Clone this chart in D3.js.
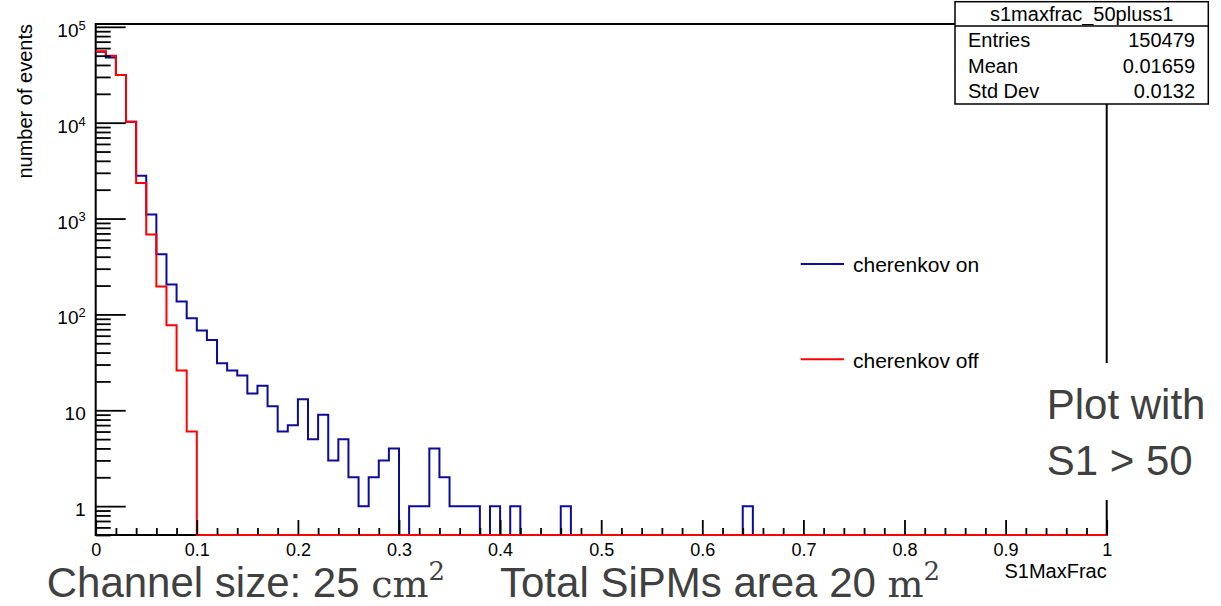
<!DOCTYPE html>
<html lang="en">
<head>
<meta charset="UTF-8">
<title>s1maxfrac_50pluss1</title>
<script src="https://d3js.org/d3.v7.min.js"></script>
<style>
  body { margin: 0; background: #fff; }
  svg text { font-family: "Liberation Sans", Arial, sans-serif; }
</style>
</head>
<body>
<div id="chart"></div>
<script>
// 100 bins of width 0.01 on S1MaxFrac (0..1)
const binWidth = 0.01;
const cherenkovOn = [
  55000, 48000, 31500, 10200, 2800, 1100, 425, 205, 136, 91,
  68, 54, 31, 26, 23, 15, 18, 11, 6, 7,
  13, 5, 9, 3, 5, 2, 1, 2, 3, 4,
  0, 1, 1, 4, 2, 1, 1, 1, 0, 1,
  0, 1, 0, 0, 0, 0, 1, 0, 0, 0,
  0, 0, 0, 0, 0, 0, 0, 0, 0, 0,
  0, 0, 0, 0, 1, 0, 0, 0, 0, 0,
  0, 0, 0, 0, 0, 0, 0, 0, 0, 0,
  0, 0, 0, 0, 0, 0, 0, 0, 0, 0,
  0, 0, 0, 0, 0, 0, 0, 0, 0, 0
];
const cherenkovOff = [
  55500, 50000, 31500, 10200, 2350, 680, 196, 77, 26, 6,
  0, 0, 0, 0, 0, 0, 0, 0, 0, 0,
  0, 0, 0, 0, 0, 0, 0, 0, 0, 0,
  0, 0, 0, 0, 0, 0, 0, 0, 0, 0,
  0, 0, 0, 0, 0, 0, 0, 0, 0, 0,
  0, 0, 0, 0, 0, 0, 0, 0, 0, 0,
  0, 0, 0, 0, 0, 0, 0, 0, 0, 0,
  0, 0, 0, 0, 0, 0, 0, 0, 0, 0,
  0, 0, 0, 0, 0, 0, 0, 0, 0, 0,
  0, 0, 0, 0, 0, 0, 0, 0, 0, 0
];
const seriesNames = ['cherenkov on', 'cherenkov off'];
const xTicks = [0, 0.1, 0.2, 0.3, 0.4, 0.5, 0.6, 0.7, 0.8, 0.9, 1];
const yTicks = [1, 10, 100, 1000, 10000, 100000];
const statTitle = 's1maxfrac_50pluss1';
const statLabels = ['Entries', 'Mean', 'Std Dev'];
const statValues = ['150479', '0.01659', '0.0132'];

const W = 1221, H = 606;
const mLeft = 95.7, mRight = 1106.7, mTop = 24, mBottom = 535;
const blue = '#0b0b9c', red = '#ff0000';

const svg = d3.select('#chart').append('svg')
  .attr('width', W).attr('height', H);

const x = d3.scaleLinear().domain([0, 1]).range([mLeft, mRight]);
const y = d3.scaleLog().domain([0.5, 1.07e5]).range([mBottom, mTop]);

// frame
svg.append('rect')
  .attr('x', mLeft).attr('y', mTop)
  .attr('width', mRight - mLeft).attr('height', mBottom - mTop)
  .attr('fill', 'none').attr('stroke', '#000').attr('stroke-width', 2);

// histograms, empty bins sit on the lower edge
function steps(vals) {
  const pts = [];
  vals.forEach((v, i) => {
    const yy = v > 0 ? y(v) : mBottom;
    pts.push([x(i * binWidth), yy], [x((i + 1) * binWidth), yy]);
  });
  return pts;
}
const line = d3.line();
[[cherenkovOn, blue], [cherenkovOff, red]].forEach(([vals, col]) => {
  svg.append('path')
    .attr('d', line(steps(vals)))
    .attr('fill', 'none')
    .attr('stroke', col)
    .attr('stroke-width', 2);
});

// x axis
const xMinor = d3.range(0, 101, 2).map(i => i / 100).filter(v => Math.round(v * 100) % 10 !== 0);
const gxMinor = svg.append('g').attr('transform', `translate(0,${mBottom})`)
  .call(d3.axisBottom(x).tickValues(xMinor).tickSize(-7).tickFormat(''));
const gx = svg.append('g').attr('transform', `translate(0,${mBottom})`)
  .call(d3.axisBottom(x).tickValues(xTicks).tickSize(-15).tickPadding(8).tickFormat(d3.format('~g')));

// y axis
const yMinor = y.ticks().filter(v => !yTicks.includes(v));
const gyMinor = svg.append('g').attr('transform', `translate(${mLeft},0)`)
  .call(d3.axisLeft(y).tickValues(yMinor).tickSize(-15).tickFormat(''));
const gy = svg.append('g').attr('transform', `translate(${mLeft},0)`)
  .call(d3.axisLeft(y).tickValues(yTicks).tickSize(-30).tickPadding(10).tickFormat(d => d));

[gxMinor, gx, gyMinor, gy].forEach(g => {
  g.select('.domain').remove();
  g.selectAll('line').attr('stroke', '#000').attr('stroke-width', 1.8);
  g.selectAll('text').attr('fill', '#000').attr('font-family', '"Liberation Sans", Arial, sans-serif');
});
gx.selectAll('text').attr('font-size', 18);
gy.selectAll('text').attr('font-size', 19).attr('dy', '0.5em')
  .each(function (d) {
    const e = Math.round(Math.log10(d));
    if (e >= 2) {
      const t = d3.select(this).text('10');
      t.append('tspan').attr('dy', '-0.55em').attr('font-size', '0.68em').text(e);
    }
  });

// axis titles
svg.append('text')
  .attr('x', mRight).attr('y', 578)
  .attr('text-anchor', 'end').attr('font-size', 20)
  .text('S1MaxFrac');
svg.append('text')
  .attr('transform', `translate(31.5,${mTop}) rotate(-90)`)
  .attr('text-anchor', 'end').attr('font-size', 20)
  .text('number of events');

// stat box
const sb = svg.append('g');
sb.append('rect')
  .attr('x', 955).attr('y', 1.7).attr('width', 253.3).attr('height', 102.3)
  .attr('fill', '#fff').attr('stroke', '#000').attr('stroke-width', 1.5);
sb.append('line')
  .attr('x1', 955).attr('x2', 1208.3).attr('y1', 26).attr('y2', 26)
  .attr('stroke', '#000').attr('stroke-width', 1.5);
sb.append('text')
  .attr('x', 1081.7).attr('y', 21).attr('text-anchor', 'middle').attr('font-size', 20)
  .text(statTitle);
statLabels.forEach((lab, i) => {
  const by = 47 + i * 25.5;
  sb.append('text').attr('x', 968).attr('y', by).attr('font-size', 20).text(lab);
  sb.append('text').attr('x', 1195).attr('y', by).attr('text-anchor', 'end')
    .attr('font-size', 20).text(statValues[i]);
});

// legend
const legend = svg.append('g');
[[seriesNames[0], blue, 264], [seriesNames[1], red, 359.3]].forEach(([name, col, ly]) => {
  legend.append('line')
    .attr('x1', 800.7).attr('x2', 844).attr('y1', ly).attr('y2', ly)
    .attr('stroke', col).attr('stroke-width', 2);
  legend.append('text')
    .attr('x', 853).attr('y', ly + 8.3).attr('font-size', 21)
    .text(name);
});

// slide annotations
svg.append('rect')
  .attr('x', 1040).attr('y', 363).attr('width', W - 1040).attr('height', 137)
  .attr('fill', '#fff');
const note = { fill: '#404040', 'font-family': 'Lato, "Open Sans", sans-serif', 'font-size': 42 };
function styled(sel, o) { Object.entries(o).forEach(([k, v]) => sel.attr(k, v)); return sel; }
styled(svg.append('text').attr('x', 1046.7).attr('y', 419), note).text('Plot with');
styled(svg.append('text').attr('x', 1046.7).attr('y', 475), note).text('S1 > 50');

const serif = '"DejaVu Serif", "Liberation Serif", serif';
const n1 = styled(svg.append('text').attr('x', 46.7).attr('y', 597), note);
n1.append('tspan').text('Channel size: 25 ');
n1.append('tspan').attr('font-family', serif).attr('font-size', 38).text('cm');
n1.append('tspan').attr('font-family', serif).attr('font-size', 26).attr('dy', -17).text('2');

const n2 = styled(svg.append('text').attr('x', 500).attr('y', 597), note);
n2.append('tspan').text('Total SiPMs area 20 ');
n2.append('tspan').attr('font-family', serif).attr('font-size', 38).text('m');
n2.append('tspan').attr('font-family', serif).attr('font-size', 26).attr('dy', -17).text('2');
</script>
</body>
</html>
